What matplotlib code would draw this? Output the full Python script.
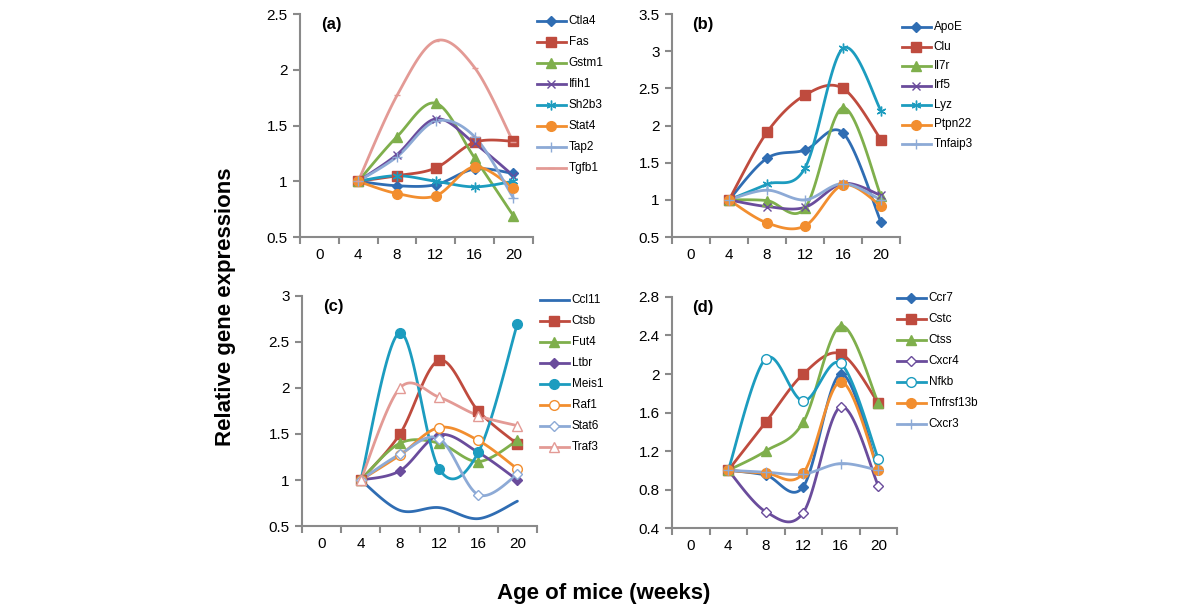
import numpy as np
import matplotlib
matplotlib.use("Agg")
import matplotlib.pyplot as plt
from matplotlib.lines import Line2D

plt.rcParams['font.family'] = ['Liberation Sans', 'DejaVu Sans']

# x categories (weeks); data start at week 4
weeks = ['0', '4', '8', '12', '16', '20']
data_weeks = [4, 8, 12, 16, 20]

# panel (a)
a_names = ['Ctla4', 'Fas', 'Gstm1', 'Ifih1', 'Sh2b3', 'Stat4', 'Tap2', 'Tgfb1']
ctla4 = [1.0, 0.96, 0.97, 1.11, 1.07]
fas = [1.0, 1.05, 1.12, 1.35, 1.36]
gstm1 = [1.0, 1.40, 1.70, 1.21, 0.69]
ifih1 = [1.0, 1.24, 1.56, 1.34, 1.05]
sh2b3 = [1.0, 1.05, 1.0, 0.95, 1.0]
stat4 = [1.0, 0.89, 0.87, 1.13, 0.94]
tap2 = [1.0, 1.22, 1.54, 1.40, 0.85]
tgfb1 = [1.0, 1.77, 2.26, 2.02, 1.35]

# panel (b)
b_names = ['ApoE', 'Clu', 'Il7r', 'Irf5', 'Lyz', 'Ptpn22', 'Tnfaip3']
apoe = [1.0, 1.56, 1.67, 1.90, 0.70]
clu = [1.0, 1.91, 2.41, 2.50, 1.81]
il7r = [1.0, 0.99, 0.89, 2.24, 1.05]
irf5 = [1.0, 0.91, 0.90, 1.22, 1.06]
lyz = [1.0, 1.21, 1.43, 3.04, 2.20]
ptpn22 = [1.0, 0.69, 0.65, 1.20, 0.92]
tnfaip3 = [1.0, 1.13, 1.0, 1.22, 1.0]

# panel (c)
c_names = ['Ccl11', 'Ctsb', 'Fut4', 'Ltbr', 'Meis1', 'Raf1', 'Stat6', 'Traf3']
ccl11 = [1.0, 0.67, 0.70, 0.58, 0.77]
ctsb = [1.0, 1.50, 2.30, 1.75, 1.39]
fut4 = [1.0, 1.40, 1.40, 1.20, 1.43]
ltbr = [1.0, 1.10, 1.49, 1.30, 1.0]
meis1 = [1.0, 2.60, 1.12, 1.30, 2.70]
raf1 = [1.0, 1.27, 1.57, 1.43, 1.12]
stat6 = [1.0, 1.28, 1.45, 0.84, 1.06]
traf3 = [1.0, 2.0, 1.90, 1.70, 1.59]

# panel (d)
d_names = ['Ccr7', 'Cstc', 'Ctss', 'Cxcr4', 'Nfkb', 'Tnfrsf13b', 'Cxcr3']
ccr7 = [1.0, 0.95, 0.83, 2.0, 1.0]
cstc = [1.0, 1.50, 2.0, 2.21, 1.70]
ctss = [1.0, 1.20, 1.50, 2.50, 1.70]
cxcr4 = [1.0, 0.57, 0.56, 1.66, 0.84]
nfkb = [1.0, 2.16, 1.72, 2.11, 1.12]
tnfrsf13b = [1.0, 0.97, 0.97, 1.92, 1.0]
cxcr3 = [1.0, 0.98, 0.96, 1.07, 1.0]

blue = '#2F6DB3'
red = '#BF4B3E'
green = '#7FAF4C'
purple = '#6A4C9C'
teal = '#1C9CBF'
orange = '#F28E2F'
lblue = '#8DAAD6'
pink = '#E39A95'


def smooth(xs, ys, n=30):
    # excel-like smoothed line (catmull-rom as bezier)
    xs = np.asarray(xs, float)
    ys = np.asarray(ys, float)
    px = np.concatenate([[xs[0]], xs, [xs[-1]]])
    py = np.concatenate([[ys[0]], ys, [ys[-1]]])
    t = np.linspace(0, 1, n)
    ox, oy = [], []
    for i in range(1, len(px) - 2):
        p0 = np.array([px[i], py[i]])
        p3 = np.array([px[i + 1], py[i + 1]])
        c1 = p0 + (p3 - np.array([px[i - 1], py[i - 1]])) / 6
        c2 = p3 - (np.array([px[i + 2], py[i + 2]]) - p0) / 6
        b = ((1 - t) ** 3)[:, None] * p0 + (3 * (1 - t) ** 2 * t)[:, None] * c1 \
            + (3 * (1 - t) * t ** 2)[:, None] * c2 + (t ** 3)[:, None] * p3
        ox.extend(b[:, 0])
        oy.extend(b[:, 1])
    return ox, oy


def panel(rect, names, series, styles, ylim, yticks, ylabels, tag, leg_xy, leg_step):
    ax = fig.add_axes(rect)
    xpos = [weeks.index(str(w)) for w in data_weeks]
    handles = []
    for name, vals, (col, mk, filled, ms) in zip(names, series, styles):
        sx, sy = smooth(xpos, vals)
        ax.plot(sx, sy, color=col, lw=2.0, solid_capstyle='round', zorder=2)
        fc = col if filled else 'white'
        ax.plot(xpos, vals, ls='none', marker=mk, ms=ms, color=col,
                mfc=fc, mec=col, mew=1.0, zorder=3)
        handles.append(Line2D([0], [0], color=col, lw=2.0, marker=mk, ms=ms,
                              mfc=fc, mec=col, mew=1.0))
    ax.set_xlim(-0.5, 5.5)
    ax.set_ylim(*ylim)
    ax.set_xticks(np.arange(-0.5, 6, 1))
    ax.set_xticklabels([])
    ax.set_xticks(range(6), minor=True)
    ax.set_xticklabels(weeks, minor=True)
    ax.tick_params(axis='x', which='minor', length=0, pad=8, labelsize=11)
    ax.tick_params(axis='x', which='major', length=5, width=1.5, color='#8a8a8a')
    ax.set_yticks(yticks)
    ax.set_yticklabels(ylabels)
    ax.tick_params(axis='y', length=5, width=1.5, color='#8a8a8a', pad=4, labelsize=11)
    for s in ['top', 'right']:
        ax.spines[s].set_visible(False)
    for s in ['left', 'bottom']:
        ax.spines[s].set_color('#8a8a8a')
        ax.spines[s].set_linewidth(1.5)
    ax.text(0.09, 0.985, tag, transform=ax.transAxes, fontsize=12,
            fontweight='bold', va='top', ha='left')
    # legend as stacked entries
    lx, ly = leg_xy
    for i, (h, name) in enumerate(zip(handles, names)):
        y = ly - i * leg_step
        fig.add_artist(Line2D([lx, lx + 0.024], [y, y], transform=fig.transFigure,
                              color=h.get_color(), lw=2.0))
        fig.add_artist(Line2D([lx + 0.012], [y], transform=fig.transFigure,
                              ls='none', marker=h.get_marker(), ms=h.get_markersize(),
                              color=h.get_color(), mfc=h.get_markerfacecolor(),
                              mec=h.get_color(), mew=1.0))
        fig.text(lx + 0.0265, y, name, fontsize=8.5, va='center', ha='left')
    return ax


star = (6, 2, 0)
fig = plt.figure(figsize=(12, 6.14), dpi=100)

panel([0.250, 0.614, 0.194, 0.363], a_names,
      [ctla4, fas, gstm1, ifih1, sh2b3, stat4, tap2, tgfb1],
      [(blue, 'D', True, 5), (red, 's', True, 7), (green, '^', True, 7),
       (purple, 'x', True, 6), (teal, star, True, 7), (orange, 'o', True, 7),
       (lblue, '+', True, 7), (pink, '_', True, 5)],
      (0.5, 2.5), [0.5, 1, 1.5, 2, 2.5], ['0.5', '1', '1.5', '2', '2.5'],
      '(a)', (0.4475, 1 - 21 / 614), 21 / 614)

panel([0.560, 0.614, 0.190, 0.363], b_names,
      [apoe, clu, il7r, irf5, lyz, ptpn22, tnfaip3],
      [(blue, 'D', True, 5), (red, 's', True, 7), (green, '^', True, 7),
       (purple, 'x', True, 6), (teal, star, True, 7), (orange, 'o', True, 7),
       (lblue, '+', True, 7)],
      (0.5, 3.5), [0.5, 1, 1.5, 2, 2.5, 3, 3.5],
      ['0.5', '1', '1.5', '2', '2.5', '3', '3.5'],
      '(b)', (0.7517, 1 - 27 / 614), 19.5 / 614)

panel([0.2517, 0.1433, 0.1958, 0.3747], c_names,
      [ccl11, ctsb, fut4, ltbr, meis1, raf1, stat6, traf3],
      [(blue, 'None', True, 5), (red, 's', True, 7), (green, '^', True, 7),
       (purple, 'D', True, 5), (teal, 'o', True, 7), (orange, 'o', False, 7),
       (lblue, 'D', False, 5), (pink, '^', False, 7)],
      (0.5, 3.0), [0.5, 1, 1.5, 2, 2.5, 3], ['0.5', '1', '1.5', '2', '2.5', '3'],
      '(c)', (0.4500, 1 - 300 / 614), 21 / 614)

panel([0.560, 0.1400, 0.1875, 0.3763], d_names,
      [ccr7, cstc, ctss, cxcr4, nfkb, tnfrsf13b, cxcr3],
      [(blue, 'D', True, 5), (red, 's', True, 7), (green, '^', True, 7),
       (purple, 'D', False, 5), (teal, 'o', False, 7), (orange, 'o', True, 7),
       (lblue, '+', True, 7)],
      (0.4, 2.8), [0.4, 0.8, 1.2, 1.6, 2.0, 2.4, 2.8],
      ['0.4', '0.8', '1.2', '1.6', '2', '2.4', '2.8'],
      '(d)', (0.7475, 1 - 298 / 614), 21 / 614)

fig.text(0.188, 0.50, 'Relative gene expressions', rotation=90, fontsize=16,
         fontweight='bold', ha='center', va='center')
fig.text(0.503, 0.034, 'Age of mice (weeks)', fontsize=16, fontweight='bold',
         ha='center', va='center')

fig.savefig('out.png', dpi=100, facecolor='white')
